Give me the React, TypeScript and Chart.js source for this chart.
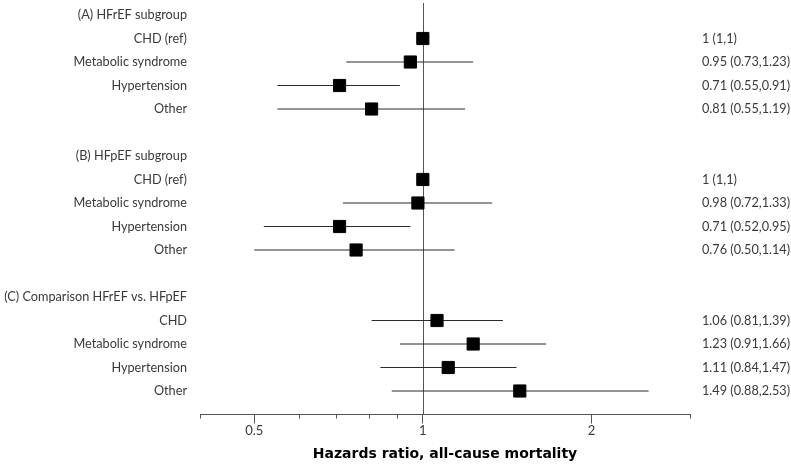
import React, { useEffect, useRef } from "react";
import { Chart, registerables } from "chart.js";

Chart.register(...registerables);

const groupHeaders = ["(A) HFrEF subgroup", "(B) HFpEF subgroup", "(C) Comparison HFrEF vs. HFpEF"];
const categoriesAB = ["CHD (ref)", "Metabolic syndrome", "Hypertension", "Other"];
const categoriesC = ["CHD", "Metabolic syndrome", "Hypertension", "Other"];

const hrA = [1, 0.95, 0.71, 0.81];
const loA = [1, 0.73, 0.55, 0.55];
const hiA = [1, 1.23, 0.91, 1.19];
const textA = ["1 (1,1)", "0.95 (0.73,1.23)", "0.71 (0.55,0.91)", "0.81 (0.55,1.19)"];

const hrB = [1, 0.98, 0.71, 0.76];
const loB = [1, 0.72, 0.52, 0.5];
const hiB = [1, 1.33, 0.95, 1.14];
const textB = ["1 (1,1)", "0.98 (0.72,1.33)", "0.71 (0.52,0.95)", "0.76 (0.50,1.14)"];

const hrC = [1.06, 1.23, 1.11, 1.49];
const loC = [0.81, 0.91, 0.84, 0.88];
const hiC = [1.39, 1.66, 1.47, 2.53];
const textC = ["1.06 (0.81,1.39)", "1.23 (0.91,1.66)", "1.11 (0.84,1.47)", "1.49 (0.88,2.53)"];

const xTicks = [0.4, 0.5, 0.6, 0.7, 0.8, 0.9, 1, 2, 3];
const labeledTicks = [0.5, 1, 2];
const minorTicks = [0.4, 0.6, 0.7, 0.8, 0.9, 3];
const refValue = 1;
const axisTitle = "Hazards ratio, all-cause mortality";

const FONT = "Lato, 'Open Sans', sans-serif";
const TITLE_FONT = "'DejaVu Sans', sans-serif";
const TEXT_COLOR = "#3a3a3a";
const AXIS_COLOR = "#555555";

type Row = { label: string; header: boolean; hr?: number; lo?: number; hi?: number; text?: string; pos: number };

function buildRows(): Row[] {
  const rows: Row[] = [];
  const groups = [
    { header: groupHeaders[0], cats: categoriesAB, hr: hrA, lo: loA, hi: hiA, text: textA },
    { header: groupHeaders[1], cats: categoriesAB, hr: hrB, lo: loB, hi: hiB, text: textB },
    { header: groupHeaders[2], cats: categoriesC, hr: hrC, lo: loC, hi: hiC, text: textC },
  ];
  let pos = 0;
  groups.forEach((g) => {
    rows.push({ label: g.header, header: true, pos });
    pos++;
    g.cats.forEach((c, i) => {
      rows.push({ label: c, header: false, hr: g.hr[i], lo: g.lo[i], hi: g.hi[i], text: g.text[i], pos });
      pos++;
    });
    pos++;
  });
  return rows;
}

export default function App() {
  const canvasRef = useRef<HTMLCanvasElement | null>(null);

  useEffect(() => {
    const canvas = canvasRef.current;
    if (!canvas) return;
    const rows = buildRows();
    const dataRows = rows.filter((r) => !r.header);

    const ciDatasets = dataRows.map((r) => ({
      type: "scatter" as const,
      data: [
        { x: r.lo as number, y: r.pos },
        { x: r.hi as number, y: r.pos },
      ],
      showLine: true,
      borderColor: "#2a2a2a",
      borderWidth: 1,
      pointRadius: 0,
      order: 2,
    }));

    const pointDataset = {
      type: "scatter" as const,
      data: dataRows.map((r) => ({ x: r.hr as number, y: r.pos })),
      pointStyle: "rect",
      pointRadius: 8.6,
      pointBackgroundColor: "#000000",
      pointBorderColor: "#000000",
      pointBorderWidth: 1,
      order: 1,
    };

    const overlay = {
      id: "forestOverlay",
      beforeDatasetsDraw(chart: any) {
        const { ctx, chartArea, scales } = chart;
        const x = Math.round(scales.x.getPixelForValue(refValue)) + 0.5;
        ctx.save();
        ctx.strokeStyle = AXIS_COLOR;
        ctx.lineWidth = 1;
        ctx.beginPath();
        ctx.moveTo(x, scales.y.getPixelForValue(-0.51));
        ctx.lineTo(x, chartArea.bottom);
        ctx.stroke();
        ctx.restore();
      },
      afterDraw(chart: any) {
        const { ctx, chartArea, scales } = chart;
        ctx.save();
        ctx.strokeStyle = AXIS_COLOR;
        ctx.lineWidth = 1;
        minorTicks.forEach((v) => {
          const x = Math.round(scales.x.getPixelForValue(v)) + 0.5;
          ctx.beginPath();
          ctx.moveTo(x, chartArea.bottom);
          ctx.lineTo(x, chartArea.bottom + 4);
          ctx.stroke();
        });
        ctx.fillStyle = TEXT_COLOR;
        ctx.font = `12.7px ${FONT}`;
        ctx.textBaseline = "middle";
        rows.forEach((r) => {
          const y = scales.y.getPixelForValue(r.pos);
          ctx.textAlign = "right";
          ctx.fillText(r.label, chartArea.left - 13, y);
          if (r.text) {
            ctx.textAlign = "left";
            ctx.fillText(r.text, chartArea.right + 12, y);
          }
        });
        ctx.restore();
      },
    };

    const chart = new Chart(canvas, {
      type: "scatter",
      data: { datasets: [...ciDatasets, pointDataset] as any },
      options: {
        responsive: false,
        animation: false,
        layout: { padding: { left: 200, right: 101, top: 0, bottom: 0 } },
        plugins: { legend: { display: false }, tooltip: { enabled: false } },
        scales: {
          x: {
            type: "logarithmic",
            min: 0.4,
            max: 3,
            afterBuildTicks: (scale: any) => {
              scale.ticks = xTicks.map((v) => ({ value: v }));
            },
            grid: {
              drawOnChartArea: false,
              tickLength: 9,
              tickColor: (ctx: any) =>
                ctx.tick && labeledTicks.includes(ctx.tick.value) ? AXIS_COLOR : "rgba(0,0,0,0)",
            },
            border: { display: true, color: AXIS_COLOR, width: 1 },
            ticks: {
              autoSkip: false,
              maxRotation: 0,
              padding: 0,
              color: TEXT_COLOR,
              font: { family: FONT, size: 13 },
              callback: (value: any) => (labeledTicks.includes(Number(value)) ? String(value) : ""),
            },
            title: {
              display: true,
              text: axisTitle,
              color: "#000000",
              font: { family: TITLE_FONT, size: 14, weight: "bold" },
              padding: { top: 6.5, bottom: 1.6 },
            },
          },
          y: {
            type: "linear",
            display: false,
            min: -0.23,
            max: 17,
            reverse: true,
          },
        },
      } as any,
      plugins: [overlay],
    });

    return () => chart.destroy();
  }, []);

  return (
    <div style={{ position: "absolute", left: 0, top: 0, width: 791, height: 464, background: "#ffffff" }}>
      <canvas ref={canvasRef} width={791} height={464} />
    </div>
  );
}
